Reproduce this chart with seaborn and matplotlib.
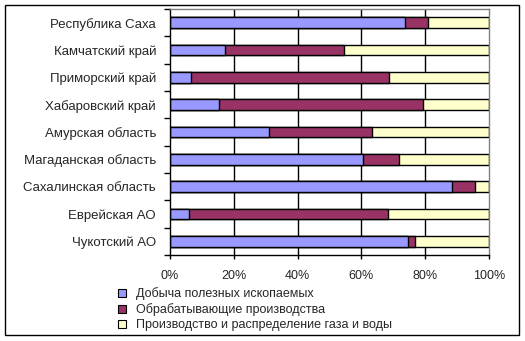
import matplotlib
matplotlib.use("Agg")
import matplotlib.pyplot as plt
import seaborn as sns
import pandas as pd
from matplotlib.patches import Patch, Rectangle

regions = ["Республика Саха", "Камчатский край", "Приморский край", "Хабаровский край",
           "Амурская область", "Магаданская область", "Сахалинская область",
           "Еврейская АО", "Чукотский АО"]
mining = [73.7, 17.3, 6.5, 15.3, 30.9, 60.6, 88.5, 5.9, 74.7]
manufacturing = [7.3, 37.3, 62.0, 64.1, 32.5, 11.3, 7.2, 62.3, 2.2]
utilities = [19.0, 45.4, 31.5, 20.6, 36.6, 28.1, 4.3, 31.8, 23.1]
series_names = ["Добыча полезных ископаемых", "Обрабатывающие производства",
                "Производство и распределение газа и воды"]
colors = ["#9999FF", "#993366", "#FFFFCC"]
xticks = [0, 20, 40, 60, 80, 100]
xtick_labels = ["0%", "20%", "40%", "60%", "80%", "100%"]

sns.set_theme(style="white")
plt.rcParams["font.family"] = ["Liberation Sans", "DejaVu Sans"]

df = pd.DataFrame({"region": regions, "mining": mining,
                   "manufacturing": manufacturing, "utilities": utilities})
df["c1"] = df["mining"]
df["c2"] = df["mining"] + df["manufacturing"]
df["c3"] = df["c2"] + df["utilities"]

fig = plt.figure(figsize=(5.25, 3.41), dpi=100)
ax = fig.add_axes([170 / 525, 1 - 255 / 341, (489 - 170) / 525, (255 - 9) / 341])

for col, c in [("c3", colors[2]), ("c2", colors[1]), ("c1", colors[0])]:
    sns.barplot(data=df, x=col, y="region", orient="h", color=c, width=0.4,
                edgecolor="black", linewidth=1, saturation=1, ax=ax, order=regions)

ax.set_xlim(0, 100)
ax.set_ylim(len(regions) - 0.5, -0.5)
ax.set_xticks(xticks)
ax.set_xticklabels(xtick_labels, fontsize=9)
ax.set_xlabel("")
ax.set_ylabel("")
ax.tick_params(axis="y", labelsize=9.5, length=0, pad=10)
ax.tick_params(axis="x", length=3, width=1, color="black", direction="out", bottom=True, pad=8)
# y tick marks at category boundaries
ax.set_yticks([i - 0.5 for i in range(len(regions) + 1)], minor=True)
ax.tick_params(axis="y", which="minor", length=4, width=1, color="black", direction="out", left=True)
for x in xticks[1:-1]:
    ax.axvline(x, color="black", linewidth=1, zorder=0)
for s in ["left", "bottom"]:
    ax.spines[s].set_color("black")
    ax.spines[s].set_linewidth(1)
for s in ["top", "right"]:
    ax.spines[s].set_color("#808080")
    ax.spines[s].set_linewidth(1)

handles = [Patch(facecolor=c, edgecolor="black", linewidth=0.8) for c in colors]
fig.legend(handles, series_names, loc="upper left", bbox_to_anchor=(118 / 525, 1 - 287 / 341),
           frameon=False, fontsize=9, handlelength=0.6, handleheight=0.6, handletextpad=0.8,
           labelspacing=0.25, borderpad=0, borderaxespad=0)

fig.patches.append(Rectangle((5 / 525, 1 - 335 / 341), (519 - 5) / 525, (335 - 5) / 341,
                             transform=fig.transFigure, fill=False, edgecolor="black",
                             linewidth=1))
fig.savefig("out.png", dpi=100)
